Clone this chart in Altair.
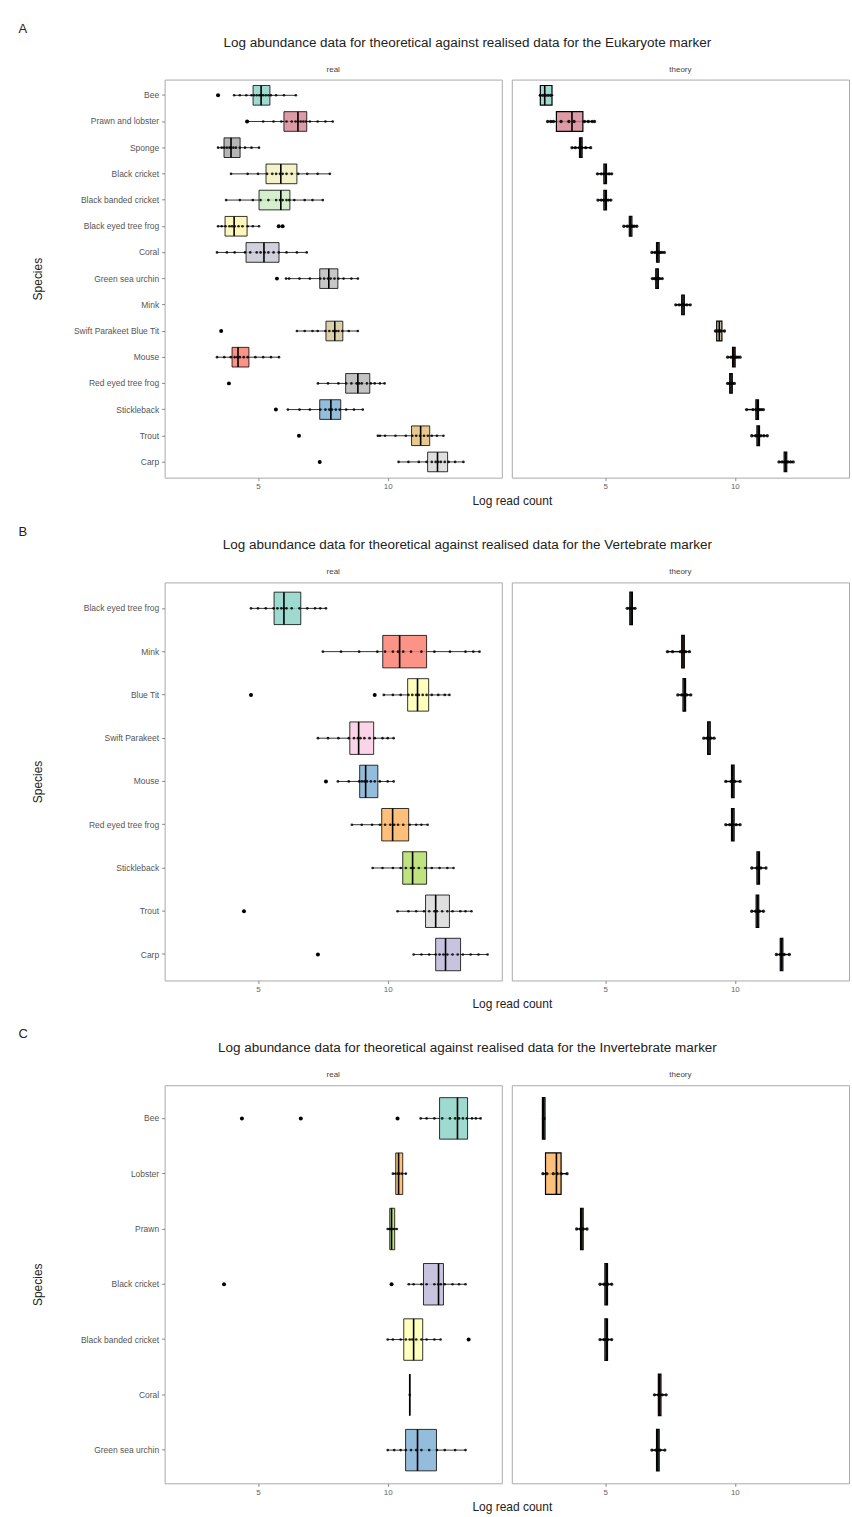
import altair as alt
import pandas as pd

# ---------------- Panel A : Eukaryote marker ----------------
A_SPECIES = ["Bee", "Prawn and lobster", "Sponge", "Black cricket", "Black banded cricket",
             "Black eyed tree frog", "Coral", "Green sea urchin", "Mink", "Swift Parakeet Blue Tit",
             "Mouse", "Red eyed tree frog", "Stickleback", "Trout", "Carp"]
A_COLORS = ["#8DD3C7", "#D68A98", "#A8A8A8", "#F2F0BE", "#CCEBC5", "#FFF5B0", "#C9C9D6", "#BDBDBD",
            "#FCCDE5", "#D5C89B", "#FB8072", "#B8B8B8", "#80B1D3", "#E3C07A", "#D9D9D9"]

A_REAL_LO = [4.08, 4.58, 3.46, 3.96, 3.77, 3.46, 3.42, 6.08, None, 6.50, 3.42, 7.31, 6.15, 9.62, 10.42]
A_REAL_Q1 = [4.81, 6.00, 3.69, 5.31, 5.04, 3.73, 4.54, 7.38, None, 7.62, 4.00, 8.38, 7.38, 10.92, 11.54]
A_REAL_MED = [5.12, 6.54, 3.96, 5.88, 5.88, 4.08, 5.23, 7.73, None, 7.96, 4.23, 8.85, 7.81, 11.27, 11.92]
A_REAL_Q3 = [5.46, 6.88, 4.31, 6.50, 6.23, 4.58, 5.81, 8.08, None, 8.27, 4.65, 9.31, 8.19, 11.62, 12.31]
A_REAL_HI = [6.46, 7.88, 5.04, 7.77, 7.50, 5.04, 6.88, 8.85, None, 8.85, 5.81, 9.88, 9.04, 12.15, 12.92]
A_REAL_OUT = [[3.46], [4.58], [], [], [], [5.80, 5.95], [], [5.73], [], [3.58], [], [3.88], [5.69], [6.58], [7.38]]
A_REAL_PTS = [
    [4.08, 4.3, 4.55, 4.75, 4.85, 4.95, 5.05, 5.12, 5.2, 5.3, 5.4, 5.5, 5.7, 6.0, 6.46],
    [5.2, 5.6, 5.9, 6.1, 6.3, 6.45, 6.55, 6.65, 6.75, 6.85, 7.0, 7.3, 7.6, 7.88],
    [3.46, 3.6, 3.7, 3.8, 3.9, 3.96, 4.05, 4.15, 4.3, 4.5, 4.75, 5.04],
    [3.96, 4.6, 5.0, 5.35, 5.55, 5.7, 5.85, 5.95, 6.1, 6.3, 6.55, 6.9, 7.3, 7.77],
    [3.77, 4.3, 4.8, 5.1, 5.4, 5.7, 5.85, 5.95, 6.1, 6.2, 6.4, 6.8, 7.1, 7.5],
    [3.46, 3.6, 3.75, 3.9, 4.0, 4.1, 4.25, 4.4, 4.6, 4.8, 5.04],
    [3.42, 3.8, 4.1, 4.5, 4.7, 4.95, 5.1, 5.25, 5.4, 5.6, 5.8, 6.1, 6.5, 6.88],
    [6.08, 6.2, 6.6, 7.0, 7.4, 7.55, 7.7, 7.8, 7.95, 8.1, 8.3, 8.6, 8.85],
    [],
    [6.5, 6.8, 7.1, 7.3, 7.6, 7.75, 7.9, 8.0, 8.1, 8.25, 8.5, 8.85],
    [3.42, 3.7, 3.95, 4.1, 4.2, 4.3, 4.45, 4.6, 4.9, 5.2, 5.5, 5.81],
    [7.31, 7.7, 8.1, 8.4, 8.6, 8.8, 8.9, 9.0, 9.2, 9.35, 9.5, 9.7, 9.88],
    [6.15, 6.6, 7.0, 7.4, 7.6, 7.75, 7.85, 8.0, 8.15, 8.4, 8.7, 9.04],
    [9.62, 9.7, 9.9, 10.3, 10.7, 10.95, 11.1, 11.25, 11.4, 11.55, 11.7, 11.9, 12.15],
    [10.42, 10.8, 11.2, 11.5, 11.7, 11.85, 11.95, 12.05, 12.2, 12.35, 12.6, 12.92],
]
A_THEO_LO = [2.45, 2.78, 3.72, 4.70, 4.72, 5.72, 6.80, 6.82, 7.72, 9.25, 9.72, 9.72, 10.45, 10.65, 11.70]
A_THEO_Q1 = [2.50, 3.12, 4.01, 4.95, 4.95, 5.93, 6.98, 6.95, 7.95, 9.30, 9.91, 9.80, 10.81, 10.85, 11.90]
A_THEO_MED = [2.67, 3.72, 4.06, 5.00, 5.00, 5.98, 7.03, 7.00, 8.00, 9.40, 9.96, 9.85, 10.86, 10.90, 11.95]
A_THEO_Q3 = [2.95, 4.14, 4.11, 5.05, 5.05, 6.03, 7.08, 7.05, 8.05, 9.50, 10.01, 9.90, 10.91, 10.95, 12.00]
A_THEO_HI = [3.00, 4.59, 4.44, 5.25, 5.22, 6.22, 7.28, 7.20, 8.28, 9.60, 10.20, 9.98, 11.10, 11.25, 12.25]
A_THEO_PTS = [
    [2.5, 2.6, 2.7, 2.8, 2.9],
    [2.78, 2.9, 3.0, 3.3, 3.6, 3.8, 4.2, 4.35, 4.5, 4.59],
    [3.72, 3.85, 4.0, 4.06, 4.1, 4.25, 4.44],
    [4.7, 4.85, 4.95, 5.0, 5.05, 5.15, 5.25],
    [4.72, 4.85, 4.95, 5.0, 5.05, 5.12, 5.22],
    [5.72, 5.85, 5.95, 6.0, 6.05, 6.12, 6.22],
    [6.8, 6.92, 7.0, 7.05, 7.1, 7.18, 7.28],
    [6.82, 6.9, 6.97, 7.0, 7.04, 7.1, 7.2],
    [7.72, 7.85, 7.95, 8.0, 8.05, 8.15, 8.28],
    [9.25, 9.35, 9.4, 9.45, 9.6],
    [9.72, 9.85, 9.95, 10.0, 10.05, 10.12, 10.2],
    [9.72, 9.8, 9.85, 9.9, 9.98],
    [10.45, 10.7, 10.82, 10.88, 10.95, 11.02, 11.1],
    [10.65, 10.8, 10.88, 10.92, 11.0, 11.12, 11.25],
    [11.7, 11.82, 11.92, 11.98, 12.05, 12.15, 12.25],
]

# ---------------- Panel B : Vertebrate marker ----------------
B_SPECIES = ["Black eyed tree frog", "Mink", "Blue Tit", "Swift Parakeet", "Mouse",
             "Red eyed tree frog", "Stickleback", "Trout", "Carp"]
B_COLORS = ["#8DD3C7", "#FB8072", "#FFFFB3", "#FCCDE5", "#80B1D3", "#FDB462", "#B3DE69", "#D9D9D9", "#BEBADA"]
B_REAL_LO = [4.73, 7.50, 9.85, 7.31, 8.08, 8.62, 9.42, 10.38, 11.00]
B_REAL_Q1 = [5.62, 9.81, 10.77, 8.54, 8.92, 9.77, 10.58, 11.46, 11.85]
B_REAL_MED = [6.00, 10.46, 11.15, 8.88, 9.15, 10.19, 10.96, 11.85, 12.23]
B_REAL_Q3 = [6.65, 11.50, 11.58, 9.46, 9.62, 10.81, 11.50, 12.38, 12.81]
B_REAL_HI = [7.62, 13.54, 12.38, 10.23, 10.23, 11.54, 12.54, 13.23, 13.85]
B_REAL_OUT = [[], [], [4.73, 9.50], [], [7.62], [], [], [4.46], [7.31]]
B_REAL_PTS = [
    [4.73, 5.0, 5.3, 5.6, 5.75, 5.9, 6.0, 6.1, 6.3, 6.6, 6.9, 7.2, 7.4, 7.62],
    [7.5, 8.2, 8.9, 9.6, 9.9, 10.2, 10.4, 10.6, 10.9, 11.3, 11.8, 12.4, 13.0, 13.3, 13.54],
    [9.85, 10.2, 10.5, 10.8, 10.95, 11.1, 11.2, 11.35, 11.5, 11.7, 11.95, 12.2, 12.38],
    [7.31, 7.7, 8.1, 8.5, 8.7, 8.85, 8.95, 9.1, 9.3, 9.5, 9.8, 10.0, 10.23],
    [8.08, 8.5, 8.9, 9.0, 9.1, 9.2, 9.35, 9.5, 9.7, 10.0, 10.23],
    [8.62, 9.0, 9.4, 9.7, 9.9, 10.1, 10.25, 10.4, 10.6, 10.85, 11.1, 11.3, 11.54],
    [9.42, 9.8, 10.2, 10.5, 10.7, 10.9, 11.0, 11.2, 11.45, 11.7, 12.0, 12.3, 12.54],
    [10.38, 10.8, 11.1, 11.4, 11.6, 11.8, 11.9, 12.1, 12.3, 12.5, 12.8, 13.0, 13.23],
    [11.0, 11.3, 11.6, 11.85, 12.0, 12.15, 12.3, 12.5, 12.7, 12.9, 13.2, 13.5, 13.85],
]
B_THEO_LO = [5.85, 7.40, 7.80, 8.80, 9.65, 9.65, 10.65, 10.65, 11.60]
B_THEO_Q1 = [5.95, 7.95, 8.00, 8.95, 9.87, 9.87, 10.85, 10.82, 11.75]
B_THEO_MED = [6.00, 8.00, 8.05, 9.00, 9.92, 9.92, 10.90, 10.87, 11.80]
B_THEO_Q3 = [6.05, 8.05, 8.10, 9.05, 9.97, 9.97, 10.95, 10.92, 11.85]
B_THEO_HI = [6.15, 8.25, 8.30, 9.20, 10.20, 10.20, 11.20, 11.10, 12.10]
B_THEO_PTS = [
    [5.85, 5.95, 6.0, 6.05, 6.15],
    [7.4, 7.6, 7.9, 8.0, 8.1, 8.25],
    [7.8, 7.95, 8.05, 8.15, 8.3],
    [8.8, 8.92, 9.0, 9.08, 9.2],
    [9.65, 9.85, 9.92, 10.0, 10.2],
    [9.65, 9.8, 9.92, 10.05, 10.2],
    [10.65, 10.85, 10.9, 11.0, 11.2],
    [10.65, 10.8, 10.87, 10.95, 11.1],
    [11.6, 11.75, 11.8, 11.9, 12.1],
]

# ---------------- Panel C : Invertebrate marker ----------------
C_SPECIES = ["Bee", "Lobster", "Prawn", "Black cricket", "Black banded cricket", "Coral", "Green sea urchin"]
C_COLORS = ["#8DD3C7", "#FDB462", "#B3DE69", "#BEBADA", "#FFFFB3", "#FB8072", "#80B1D3"]
C_REAL_LO = [11.27, 10.20, 10.00, 10.81, 10.00, 10.85, 10.00]
C_REAL_Q1 = [12.00, 10.31, 10.08, 11.38, 10.62, 10.85, 10.69]
C_REAL_MED = [12.69, 10.42, 10.15, 11.96, 11.00, 10.85, 11.15]
C_REAL_Q3 = [13.08, 10.58, 10.27, 12.15, 11.35, 10.85, 11.88]
C_REAL_HI = [13.58, 10.70, 10.35, 13.00, 12.04, 10.85, 13.00]
C_REAL_OUT = [[4.38, 6.65, 10.38], [], [], [3.69, 10.15], [13.12], [], []]
C_REAL_PTS = [
    [11.27, 11.5, 11.8, 12.1, 12.4, 12.6, 12.75, 12.9, 13.05, 13.25, 13.4, 13.58],
    [10.2, 10.3, 10.4, 10.45, 10.55, 10.7],
    [10.0, 10.08, 10.12, 10.18, 10.25, 10.35],
    [10.81, 11.0, 11.3, 11.5, 11.8, 11.95, 12.05, 12.2, 12.5, 12.75, 13.0],
    [10.0, 10.2, 10.5, 10.7, 10.85, 10.95, 11.1, 11.3, 11.5, 11.8, 12.04],
    [10.85],
    [10.0, 10.25, 10.5, 10.7, 10.9, 11.1, 11.3, 11.6, 11.9, 12.2, 12.6, 13.0],
]
C_THEO_LO = [2.60, 2.60, 3.90, 4.80, 4.80, 6.90, 6.80]
C_THEO_Q1 = [2.58, 2.70, 4.05, 4.99, 4.99, 7.05, 6.98]
C_THEO_MED = [2.63, 3.12, 4.10, 5.04, 5.04, 7.10, 7.03]
C_THEO_Q3 = [2.68, 3.30, 4.15, 5.09, 5.09, 7.15, 7.08]
C_THEO_HI = [2.66, 3.53, 4.30, 5.25, 5.25, 7.35, 7.30]
C_THEO_PTS = [
    [2.62, 2.64],
    [2.6, 2.75, 3.0, 3.15, 3.3, 3.53],
    [3.9, 4.05, 4.1, 4.15, 4.3],
    [4.8, 4.95, 5.04, 5.1, 5.25],
    [4.8, 4.95, 5.04, 5.1, 5.25],
    [6.9, 7.05, 7.1, 7.2, 7.35],
    [6.8, 6.95, 7.03, 7.12, 7.3],
]

TITLES = [
    "Log abundance data for theoretical against realised data for the Eukaryote marker",
    "Log abundance data for theoretical against realised data for the Vertebrate marker",
    "Log abundance data for theoretical against realised data for the Invertebrate marker",
]
LETTERS = ["A", "B", "C"]
X_TICKS = [5, 10]

FONT = "Liberation Sans"
PANEL_W = 338
PANEL_H = 399
X_DOMAIN = [1.4, 14.4]


def summary_df(species, lo, q1, med, q3, hi):
    rows = []
    for s, a, b, c, d, e in zip(species, lo, q1, med, q3, hi):
        if a is None:
            continue
        rows.append({"species": s, "lo": a, "q1": b, "med": c, "q3": d, "hi": e})
    return pd.DataFrame(rows)


def points_df(species, lists):
    rows = []
    for s, vals in zip(species, lists):
        for v in vals:
            rows.append({"species": s, "value": v})
    return pd.DataFrame(rows, columns=["species", "value"])


def panel(species, colors, summ, pts, outl, facet_title, left):
    n = len(species)
    step = PANEL_H / (n + 0.2)
    box_px = step * 0.75
    yscale = alt.Scale(domain=species, paddingInner=0.25, paddingOuter=0.225)
    if left:
        yaxis = alt.Axis(title="Species", labelFontSize=8.5, labelColor="#555555", tickColor="#888888",
                         tickSize=3, domain=False, titleFontSize=12, titleFontWeight="normal",
                         titleColor="#222222", minExtent=118, maxExtent=118, titlePadding=2,
                         labelPadding=3, labelLimit=200)
        xaxis = alt.Axis(values=X_TICKS, format="d", title="Log read count", labelFontSize=8,
                         labelColor="#666666", tickColor="#888888", tickSize=3, domain=False, grid=False,
                         titleFontSize=12, titleFontWeight="normal", titleColor="#222222",
                         titleX=348, titleY=18, titleAlign="center", titleBaseline="top")
    else:
        yaxis = None
        xaxis = alt.Axis(values=X_TICKS, format="d", title=None, labelFontSize=8,
                         labelColor="#666666", tickColor="#888888", tickSize=3, domain=False, grid=False)
    xscale = alt.Scale(domain=X_DOMAIN, nice=False, zero=False)
    xtitle = "Log read count" if left else None
    dot_size = 7 if left else 11

    def X(f):
        return alt.X(f"{f}:Q", scale=xscale, axis=xaxis, title=xtitle)

    Y = alt.Y("species:N", sort=species, scale=yscale, axis=yaxis, title="Species" if left else None)

    whisk = alt.Chart(summ).mark_rule(color="black", strokeWidth=0.8 if left else 1.4).encode(
        x=X("lo"), x2="hi", y=Y)
    box = alt.Chart(summ).mark_bar(stroke="black", strokeWidth=0.8 if left else 1.2, fillOpacity=0.85).encode(
        x=X("q1"), x2="q3", y=Y,
        fill=alt.Fill("species:N", scale=alt.Scale(domain=species, range=colors), legend=None))
    med = alt.Chart(summ).mark_tick(color="black", thickness=1.6, size=box_px, opacity=1).encode(x=X("med"), y=Y)
    dots = alt.Chart(pts).mark_circle(size=dot_size, color="black", opacity=0.85).encode(x=X("value"), y=Y)
    outs = alt.Chart(outl).mark_circle(size=16, color="black", opacity=1).encode(x=X("value"), y=Y)
    return alt.layer(whisk, box, med, dots, outs).properties(
        width=PANEL_W, height=PANEL_H,
        title=alt.TitleParams(facet_title, fontSize=8, color="#444444", fontWeight="normal",
                              anchor="middle", offset=6, font=FONT))


def block(letter, title, species, colors, real, theo):
    r_summ = summary_df(species, *real[:5])
    r_pts = points_df(species, real[6])
    r_out = points_df(species, real[5])
    t_summ = summary_df(species, *theo[:5])
    t_pts = points_df(species, theo[5])
    t_out = points_df(species, [[] for _ in species])
    left = panel(species, colors, r_summ, r_pts, r_out, "real", True)
    right = panel(species, colors, t_summ, t_pts, t_out, "theory", False)
    h = alt.hconcat(left, right, spacing=10, bounds="flush").properties(
        title=alt.TitleParams(title, fontSize=13.5, fontWeight="normal", color="#222222", anchor="middle",
                              offset=16, dx=27, font=FONT))
    return alt.vconcat(h).properties(
        title=alt.TitleParams(letter, fontSize=13, fontWeight="normal", color="#222222", anchor="start",
                              offset=0, dx=-13, font=FONT))


bA = block(LETTERS[0], TITLES[0], A_SPECIES, A_COLORS,
           (A_REAL_LO, A_REAL_Q1, A_REAL_MED, A_REAL_Q3, A_REAL_HI, A_REAL_OUT, A_REAL_PTS),
           (A_THEO_LO, A_THEO_Q1, A_THEO_MED, A_THEO_Q3, A_THEO_HI, A_THEO_PTS))
bB = block(LETTERS[1], TITLES[1], B_SPECIES, B_COLORS,
           (B_REAL_LO, B_REAL_Q1, B_REAL_MED, B_REAL_Q3, B_REAL_HI, B_REAL_OUT, B_REAL_PTS),
           (B_THEO_LO, B_THEO_Q1, B_THEO_MED, B_THEO_Q3, B_THEO_HI, B_THEO_PTS))
bC = block(LETTERS[2], TITLES[2], C_SPECIES, C_COLORS,
           (C_REAL_LO, C_REAL_Q1, C_REAL_MED, C_REAL_Q3, C_REAL_HI, C_REAL_OUT, C_REAL_PTS),
           (C_THEO_LO, C_THEO_Q1, C_THEO_MED, C_THEO_Q3, C_THEO_HI, C_THEO_PTS))

chart = alt.vconcat(bA, bB, bC, spacing=18).resolve_scale(fill="independent").properties(
    padding={"left": 18, "top": 21, "right": 2, "bottom": 0}, background="white"
).configure(font=FONT).configure_view(stroke="#aaaaaa", strokeWidth=1)

chart.save("out.html", embed_options={"renderer": "svg", "actions": False})
